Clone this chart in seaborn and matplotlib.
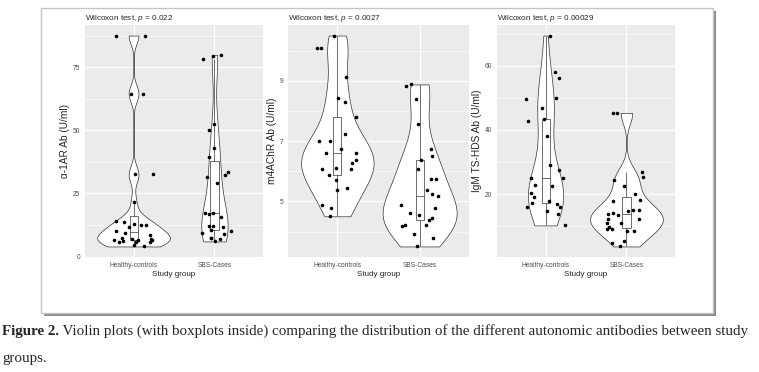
import numpy as np
import pandas as pd
import seaborn as sns
import matplotlib.pyplot as plt
from matplotlib.patches import Rectangle
from matplotlib.ticker import FixedLocator, MultipleLocator

# Values (U/ml)
groups = ['Healthy-controls', 'SBS-Cases']

a1ar_healthy = [87.5, 87.5, 64.5, 64.5, 32.5, 32.5, 21.5, 14.2, 13.6, 13.0, 12.5, 12.5,
                11.8, 10.1, 9.4, 8.4, 7.4, 7.0, 7.0, 6.5, 6.4, 6.4, 6.1, 5.8, 5.7, 5.7,
                4.7, 4.0]
a1ar_sbs = [79.8, 79.5, 78.2, 52.5, 50.3, 43.1, 39.4, 33.4, 32.2, 31.6, 29.2, 17.4, 17.2,
            17.0, 15.7, 12.2, 12.0, 11.8, 10.6, 10.3, 9.5, 9.0, 7.4, 7.3, 7.0, 6.0]

m4achr_healthy = [10.5, 10.08, 10.08, 9.12, 8.44, 8.3, 7.79, 7.23, 7.02, 7.0, 6.74, 6.61,
                  6.6, 6.37, 6.29, 6.1, 6.08, 6.08, 5.88, 5.71, 5.44, 5.38, 4.9, 4.77, 4.51]
m4achr_sbs = [8.88, 8.84, 8.41, 7.58, 6.74, 6.52, 6.39, 6.09, 5.74, 5.74, 5.38, 5.25, 5.18,
              4.87, 4.8, 4.63, 4.56, 4.44, 4.39, 4.23, 4.22, 4.18, 3.92, 3.79, 3.51]

igm_healthy = [69.4, 57.9, 56.2, 50.0, 49.7, 46.7, 43.5, 42.9, 38.2, 29.1, 27.6, 25.2, 25.0,
               22.8, 22.6, 20.4, 19.0, 17.9, 17.3, 17.0, 16.0, 16.0, 14.9, 13.7, 10.3]
igm_sbs = [45.3, 45.3, 26.9, 25.4, 24.4, 22.6, 20.1, 18.3, 17.8, 15.2, 15.0, 14.8, 14.2, 14.0,
           13.4, 12.4, 12.4, 11.1, 11.0, 9.9, 9.3, 9.2, 8.6, 8.5, 5.6, 4.9, 3.75]

titles = ['Wilcoxon test, $p$ = 0.022', 'Wilcoxon test, $p$ = 0.0027',
          'Wilcoxon test, $p$ = 0.00029']
ylabels = ['α-1AR Ab (U/ml)', 'm4AChR Ab (U/ml)', 'IgM TS-HDS Ab (U/ml)']
yticks = [[0, 25, 50, 75], [5, 7, 9], [20, 40, 60]]
minor_step = [12.5, 1, 10]

caption_bold = 'Figure 2.'
caption_1 = (' Violin plots (with boxplots inside) comparing the distribution of the '
             'different autonomic antibodies between study')
caption_2 = 'groups.'


def nrd0(kde):
    # R's default bandwidth (bw.nrd0), as used by ggplot2's geom_violin
    x = kde.dataset[0]
    sd = np.std(x, ddof=1)
    q1, q3 = np.percentile(x, [25, 75])
    return 0.9 * min(sd, (q3 - q1) / 1.34) * len(x) ** -0.2 / sd


sns.set_theme(style='darkgrid', rc={'axes.facecolor': '#EBEBEB', 'grid.color': 'white'})
plt.rcParams['font.family'] = ['Liberation Sans', 'DejaVu Sans']
plt.rcParams['mathtext.fontset'] = 'custom'
plt.rcParams['mathtext.rm'] = 'Liberation Sans'
plt.rcParams['mathtext.it'] = 'Liberation Sans:italic'

fig = plt.figure(figsize=(7.59, 3.72), dpi=100)
W, H = 759, 372

# frame with a drop shadow
bg = fig.add_axes([0, 0, 1, 1], zorder=-5)
bg.set_xlim(0, W)
bg.set_ylim(H, 0)
bg.axis('off')
bg.add_patch(Rectangle((44, 11), 672, 305, facecolor='#8c8c8c', edgecolor='none'))
bg.add_patch(Rectangle((41, 8), 672, 305, facecolor='white', edgecolor='#c4c4c4', lw=1))

cap_size = 10.85
t1 = bg.text(2, 335, caption_bold, fontsize=cap_size, fontweight='bold',
             family='Liberation Serif', va='baseline')
bg.annotate(caption_1, xy=(1, 0), xycoords=t1, va='bottom', ha='left',
            fontsize=cap_size, family='Liberation Serif')
bg.text(2, 362, caption_2, fontsize=cap_size, family='Liberation Serif', va='baseline')

panels = [(85, 178), (288, 181), (497, 178)]
data = [(a1ar_healthy, a1ar_sbs), (m4achr_healthy, m4achr_sbs), (igm_healthy, igm_sbs)]

np.random.seed(7)
for i, ((px, pw), (hc, sbs)) in enumerate(zip(panels, data)):
    ax = fig.add_axes([px / W, (H - 257) / H, pw / W, 232 / H])
    df = pd.DataFrame({'group': [groups[0]] * len(hc) + [groups[1]] * len(sbs),
                       'value': hc + sbs})

    sns.violinplot(data=df, x='group', y='value', ax=ax, cut=0, density_norm='area',
                   bw_method=nrd0, width=0.9, inner=None, color='white',
                   linecolor='#333333', linewidth=0.5, saturation=1)
    sns.boxplot(data=df, x='group', y='value', ax=ax, width=0.1, color='white',
                linecolor='#333333', linewidth=0.5, showfliers=False, showcaps=False,
                saturation=1)
    sns.stripplot(data=df, x='group', y='value', ax=ax, jitter=0.25, color='black',
                  size=2.6, zorder=3)

    vals = np.array(hc + sbs)
    span = vals.max() - vals.min()
    ax.set_ylim(vals.min() - 0.05 * span, vals.max() + 0.05 * span)
    ax.set_xlim(-0.6, 1.6)
    ax.yaxis.set_major_locator(FixedLocator(yticks[i]))
    ax.yaxis.set_minor_locator(MultipleLocator(minor_step[i]))
    ax.grid(which='major', color='white', lw=0.9)
    ax.grid(which='minor', axis='y', color='white', lw=0.45)
    ax.set_axisbelow(True)
    for s in ax.spines.values():
        s.set_visible(False)
    ax.tick_params(which='major', length=2, width=0.5, color='#333333',
                   labelcolor='#4D4D4D', labelsize=4.8, pad=1.5)
    ax.tick_params(which='minor', length=0)
    ax.set_title(titles[i], loc='left', fontsize=5.9, pad=3.5)
    ax.set_ylabel(ylabels[i], fontsize=7.3, labelpad=2)
    ax.set_xlabel('Study group', fontsize=5.8, labelpad=1.5)

fig.savefig('out.png', dpi=100)
